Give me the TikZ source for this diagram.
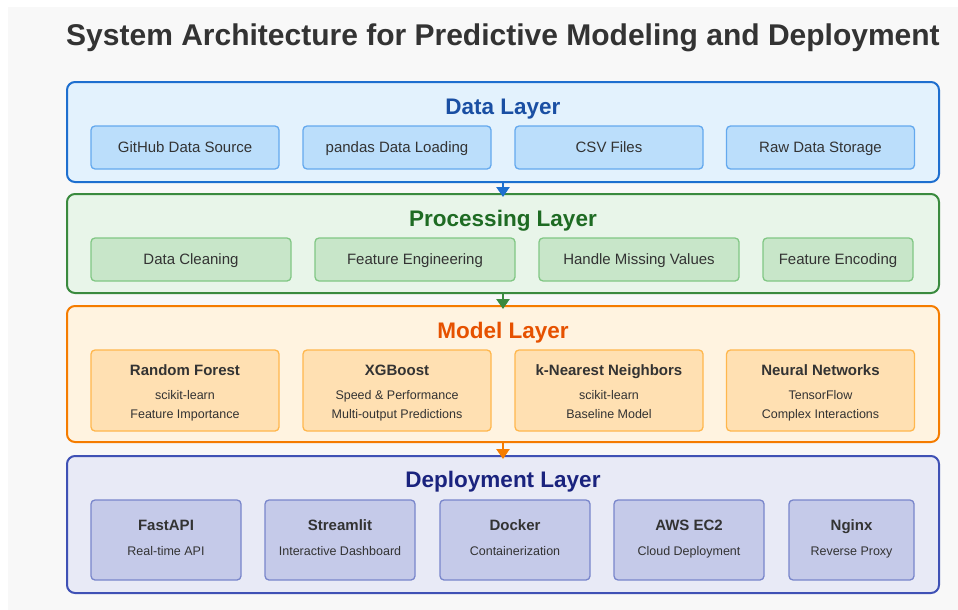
\documentclass[tikz,border=0pt]{standalone}
\usepackage{fontspec}
\setmainfont{Liberation Sans}
\usetikzlibrary{arrows.meta}
\definecolor{bgc}{HTML}{F8F8F8}
\definecolor{txt}{HTML}{333333}
\definecolor{dFill}{HTML}{E3F2FD}\definecolor{dLine}{HTML}{1E6FCF}\definecolor{dTitle}{HTML}{1A4FA3}
\definecolor{dbFill}{HTML}{BBDEFB}\definecolor{dbLine}{HTML}{64A9EE}
\definecolor{pFill}{HTML}{E8F5E9}\definecolor{pLine}{HTML}{3A8A3E}\definecolor{pTitle}{HTML}{1E6B23}
\definecolor{pbFill}{HTML}{C8E6C9}\definecolor{pbLine}{HTML}{81C784}
\definecolor{mFill}{HTML}{FFF3E0}\definecolor{mLine}{HTML}{F57C00}\definecolor{mTitle}{HTML}{E65100}
\definecolor{mbFill}{HTML}{FFE0B2}\definecolor{mbLine}{HTML}{FFB74D}
\definecolor{yFill}{HTML}{E8EAF6}\definecolor{yLine}{HTML}{3F51B5}\definecolor{yTitle}{HTML}{1A237E}
\definecolor{ybFill}{HTML}{C5CAE9}\definecolor{ybLine}{HTML}{7986CB}
\tikzset{
  layer/.style={draw, line width=2pt, rounded corners=8pt, inner sep=0pt, minimum width=872pt},
  ltitle/.style={font=\bfseries\fontsize{22.5}{27}\selectfont, inner sep=0pt, anchor=base},
  box/.style={draw, line width=1.3pt, rounded corners=4pt, inner sep=0pt, text=txt, align=center},
  plainbox/.style={box, font=\fontsize{15}{18}\selectfont, minimum height=43pt, text height=10.5pt, text depth=0pt},
  richbox/.style={box, minimum height=81pt},
  headtxt/.style={font=\bfseries\fontsize{15}{18}\selectfont, text=txt, inner sep=0pt, anchor=base},
  subtxt/.style={font=\fontsize{12.5}{15}\selectfont, text=txt, inner sep=0pt, anchor=base},
  flow/.style={line width=2.5pt, -{Triangle[length=10pt,width=13pt]}, shorten >=-4pt},
}
\begin{document}
\begin{tikzpicture}[x=1pt,y=-1pt]
\fill[white] (0,0) rectangle (958,610);
\fill[bgc] (8,7) rectangle (958,610);
\useasboundingbox (0,0) rectangle (958,610);

\node[font=\bfseries\fontsize{30}{36}\selectfont, text=txt, inner sep=0pt, anchor=base] (title) at (503,45.5) {System Architecture for Predictive Modeling and Deployment};

% Data layer
\node[layer, fill=dFill, draw=dLine, minimum height=100pt] (data) at (503,132) {};
\node[ltitle, text=dTitle] (dt) at (503,114) {Data Layer};
\begin{scope}[every node/.style={plainbox, fill=dbFill, draw=dbLine, minimum width=188pt}]
\node (d1) at (185,147.5) {GitHub Data Source};
\node (d2) at (397,147.5) {pandas Data Loading};
\node (d3) at (609,147.5) {CSV Files};
\node (d4) at (820.5,147.5) {Raw Data Storage};
\end{scope}

% Processing layer
\node[layer, fill=pFill, draw=pLine, minimum height=99pt] (proc) at (503,243.5) {};
\node[ltitle, text=pTitle] (pt) at (503,226) {Processing Layer};
\begin{scope}[every node/.style={plainbox, fill=pbFill, draw=pbLine}]
\node[minimum width=200pt] (p1) at (191,259.5) {Data Cleaning};
\node[minimum width=200pt] (p2) at (415,259.5) {Feature Engineering};
\node[minimum width=200pt] (p3) at (639,259.5) {Handle Missing Values};
\node[minimum width=150pt] (p4) at (838,259.5) {Feature Encoding};
\end{scope}

% Model layer
\node[layer, fill=mFill, draw=mLine, minimum height=136pt] (model) at (503,374) {};
\node[ltitle, text=mTitle] (mt) at (503,338) {Model Layer};
\begin{scope}[every node/.style={richbox, fill=mbFill, draw=mbLine, minimum width=188pt}]
\node (m1) at (185,390.5) {};
\node (m2) at (397,390.5) {};
\node (m3) at (609,390.5) {};
\node (m4) at (820.5,390.5) {};
\end{scope}
\node[headtxt] (m1h) at ([yshift=-26pt]m1.north) {Random Forest};
\node[subtxt] (m1a) at ([yshift=-50pt]m1.north) {scikit-learn};
\node[subtxt] (m1b) at ([yshift=-69pt]m1.north) {Feature Importance};
\node[headtxt] (m2h) at ([yshift=-26pt]m2.north) {XGBoost};
\node[subtxt] (m2a) at ([yshift=-50pt]m2.north) {Speed \& Performance};
\node[subtxt] (m2b) at ([yshift=-69pt]m2.north) {Multi-output Predictions};
\node[headtxt] (m3h) at ([yshift=-26pt]m3.north) {k-Nearest Neighbors};
\node[subtxt] (m3a) at ([yshift=-50pt]m3.north) {scikit-learn};
\node[subtxt] (m3b) at ([yshift=-69pt]m3.north) {Baseline Model};
\node[headtxt] (m4h) at ([yshift=-26pt]m4.north) {Neural Networks};
\node[subtxt] (m4a) at ([yshift=-50pt]m4.north) {TensorFlow};
\node[subtxt] (m4b) at ([yshift=-69pt]m4.north) {Complex Interactions};

% Deployment layer
\node[layer, fill=yFill, draw=yLine, minimum height=137pt] (dep) at (503,524.5) {};
\node[ltitle, text=yTitle] (yt) at (503,487) {Deployment Layer};
\begin{scope}[every node/.style={box, fill=ybFill, draw=ybLine, minimum width=150pt, minimum height=80pt}]
\node (y1) at (166,540) {};
\node (y2) at (340,540) {};
\node (y3) at (515,540) {};
\node (y4) at (689,540) {};
\node[minimum width=125pt] (y5) at (851.5,540) {};
\end{scope}
\node[headtxt] (y1h) at ([yshift=-31.5pt]y1.north) {FastAPI};
\node[subtxt] (y1a) at ([yshift=-56pt]y1.north) {Real-time API};
\node[headtxt] (y2h) at ([yshift=-31.5pt]y2.north) {Streamlit};
\node[subtxt] (y2a) at ([yshift=-56pt]y2.north) {Interactive Dashboard};
\node[headtxt] (y3h) at ([yshift=-31.5pt]y3.north) {Docker};
\node[subtxt] (y3a) at ([yshift=-56pt]y3.north) {Containerization};
\node[headtxt] (y4h) at ([yshift=-31.5pt]y4.north) {AWS EC2};
\node[subtxt] (y4a) at ([yshift=-56pt]y4.north) {Cloud Deployment};
\node[headtxt] (y5h) at ([yshift=-31.5pt]y5.north) {Nginx};
\node[subtxt] (y5a) at ([yshift=-56pt]y5.north) {Reverse Proxy};

\draw[flow, draw=dLine, fill=dLine] (data.south) -- (proc.north);
\draw[flow, draw=pLine, fill=pLine] (proc.south) -- (model.north);
\draw[flow, draw=mLine, fill=mLine] (model.south) -- (dep.north);
\end{tikzpicture}
\end{document}
